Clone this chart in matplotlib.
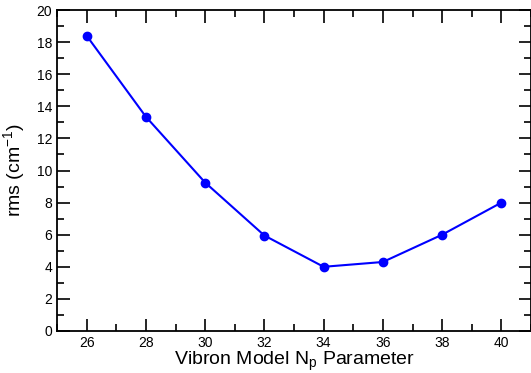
import matplotlib
matplotlib.use("Agg")
import matplotlib.pyplot as plt
from matplotlib.ticker import MultipleLocator

plt.rcParams['font.family'] = ['Liberation Sans', 'DejaVu Sans']

n_param = [26, 28, 30, 32, 34, 36, 38, 40]
rms = [18.4, 13.35, 9.25, 5.95, 4.0, 4.3, 6.0, 8.0]

fig = plt.figure(figsize=(5.31, 3.73), dpi=100)
ax = fig.add_axes([57/531, 1 - 331/373, (531-57)/531, (331-10)/373])
ax.plot(n_param, rms, color='#0000ff', lw=1.5, marker='o', ms=6, mfc='#0000ff', mec='#0000ff')
ax.set_xlim(25, 41)
ax.set_ylim(0, 20)
ax.xaxis.set_major_locator(MultipleLocator(2))
ax.xaxis.set_minor_locator(MultipleLocator(1))
ax.yaxis.set_major_locator(MultipleLocator(2))
ax.yaxis.set_minor_locator(MultipleLocator(1))
ax.tick_params(which='both', direction='in', top=True, right=True, labelsize=10, width=1.2)
ax.tick_params(which='major', length=9)
ax.tick_params(which='minor', length=5)
for s in ax.spines.values():
    s.set_linewidth(1.3)
ax.set_xlabel('Vibron Model N$_\\mathregular{p}$ Parameter', fontsize=14, labelpad=0)
ax.set_ylabel('rms (cm$^\\mathregular{-1}$)', fontsize=14, labelpad=6)
fig.savefig('out.png', dpi=100)
